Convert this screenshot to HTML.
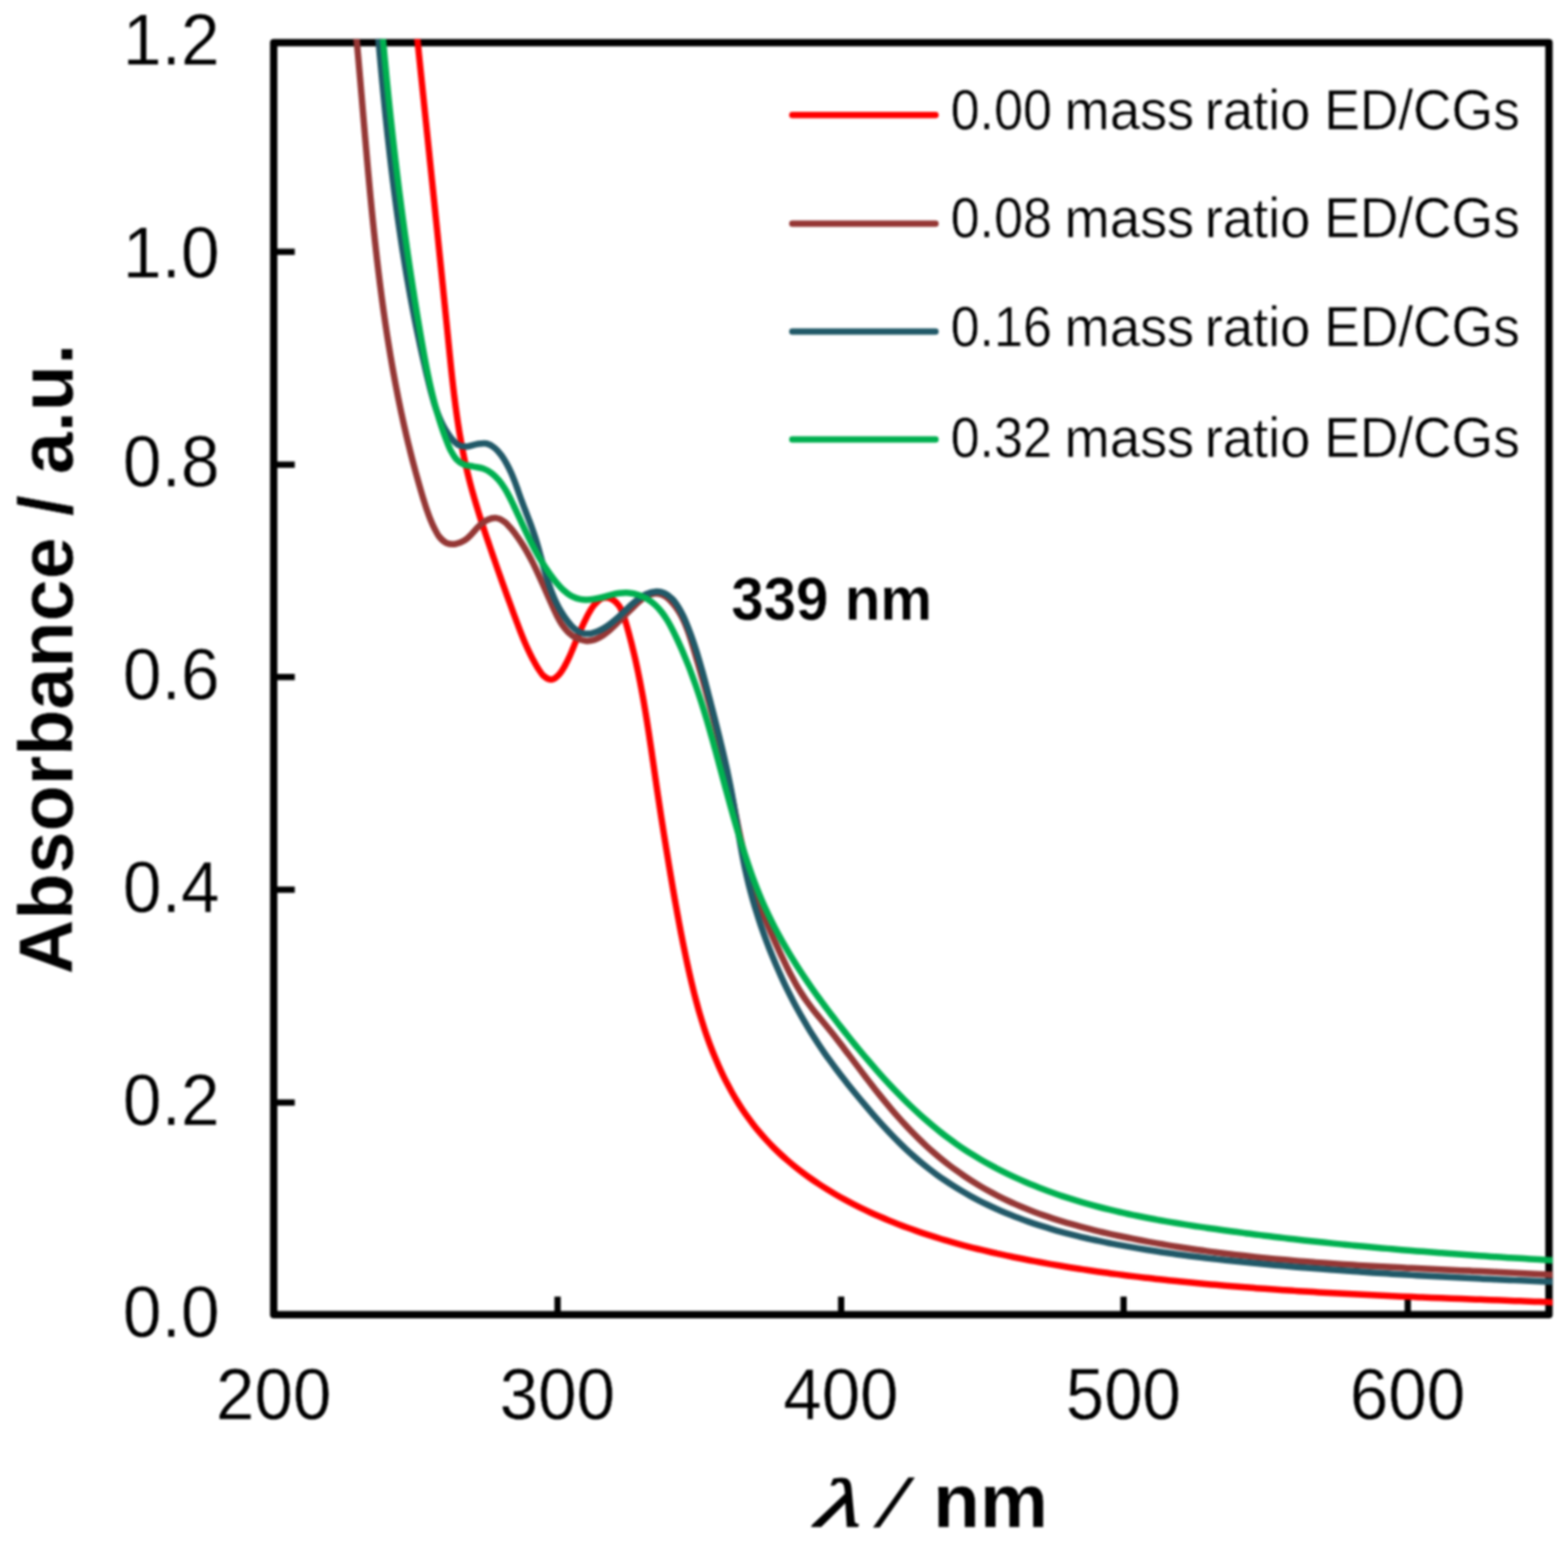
<!DOCTYPE html>
<html lang="en">
<head>
<meta charset="utf-8">
<title>UV-Vis absorbance spectra</title>
<style>
html,body{margin:0;padding:0;background:#fff;}
body{width:1599px;height:1572px;overflow:hidden;}
svg{display:block;filter:blur(1.0px);}
text{font-family:"Liberation Sans",sans-serif;fill:#000;stroke:#fff;stroke-width:0.4px;}
.b{font-weight:bold;}
.i{font-style:italic;}
</style>
</head>
<body>
<svg width="1599" height="1572" viewBox="0 0 1599 1572">
<rect x="0" y="0" width="1599" height="1572" fill="#fff"/>
<g fill="none" stroke="#000" stroke-width="7.5" stroke-linejoin="round">
<rect x="279.1" y="43.5" width="1300.5" height="1296.8"/>
</g>
<g fill="none" stroke="#000" stroke-width="6.4">
<line x1="279.1" y1="256.7" x2="300.6" y2="256.7"/>
<line x1="279.1" y1="473.7" x2="300.6" y2="473.7"/>
<line x1="279.1" y1="690.2" x2="300.6" y2="690.2"/>
<line x1="279.1" y1="907" x2="300.6" y2="907"/>
<line x1="279.1" y1="1124" x2="300.6" y2="1124"/>
<line x1="568.6" y1="1340.3" x2="568.6" y2="1321.8"/>
<line x1="857.8" y1="1340.3" x2="857.8" y2="1321.8"/>
<line x1="1145.8" y1="1340.3" x2="1145.8" y2="1321.8"/>
<line x1="1435.6" y1="1340.3" x2="1435.6" y2="1321.8"/>
</g>
<defs><clipPath id="plot"><rect x="276" y="39.7" width="1307.3" height="1305.3"/></clipPath></defs>
<g clip-path="url(#plot)" fill="none" stroke-width="6.5" stroke-linejoin="round" stroke-linecap="butt">
<path stroke="#FF0000" d="M422.0 5.0C422.20 6.63 422.71 11.63 423.05 14.96C423.39 18.29 423.74 21.62 424.08 24.95C424.42 28.28 424.77 31.61 425.11 34.94C425.45 38.27 425.80 41.60 426.14 44.92C426.48 48.25 426.83 51.58 427.17 54.90C427.51 58.23 427.86 61.56 428.20 64.88C428.55 68.21 428.89 71.53 429.23 74.86C429.58 78.18 429.92 81.51 430.27 84.83C430.61 88.15 430.96 91.48 431.30 94.80C431.64 98.12 431.99 101.45 432.33 104.77C432.68 108.09 433.02 111.41 433.37 114.74C433.71 118.06 434.06 121.38 434.40 124.70C434.74 128.02 435.09 131.34 435.43 134.66C435.78 137.99 436.12 141.31 436.47 144.63C436.81 147.95 437.15 151.27 437.50 154.59C437.84 157.91 438.19 161.23 438.53 164.55C438.87 167.87 439.22 171.19 439.56 174.51C439.91 177.83 440.25 181.15 440.59 184.47C440.94 187.79 441.28 191.11 441.62 194.43C441.96 197.75 442.31 201.07 442.65 204.39C442.99 207.71 443.34 211.03 443.68 214.36C444.02 217.68 444.36 221.00 444.70 224.32C445.05 227.64 445.39 230.96 445.73 234.28C446.07 237.60 446.41 240.93 446.75 244.25C447.09 247.57 447.43 250.89 447.77 254.21C448.11 257.54 448.45 260.86 448.79 264.18C449.13 267.51 449.47 270.83 449.81 274.15C450.15 277.48 450.49 280.80 450.83 284.13C451.16 287.45 451.50 290.78 451.84 294.10C452.18 297.43 452.51 300.76 452.85 304.08C453.19 307.41 453.52 310.74 453.86 314.06C454.20 317.39 454.53 320.72 454.87 324.05C455.20 327.38 455.54 330.71 455.87 334.04C456.20 337.37 456.54 340.70 456.87 344.03C457.20 347.36 457.53 350.70 457.87 354.03C458.20 357.36 458.54 360.69 458.88 364.03C459.21 367.36 459.55 370.69 459.90 374.02C460.25 377.35 460.61 380.68 460.97 384.01C461.33 387.34 461.70 390.67 462.09 393.99C462.47 397.32 462.86 400.64 463.27 403.96C463.68 407.28 464.10 410.60 464.54 413.92C464.98 417.23 465.43 420.54 465.90 423.85C466.37 427.15 466.86 430.46 467.38 433.76C467.89 437.05 468.42 440.35 468.98 443.64C469.54 446.92 470.11 450.21 470.72 453.49C471.33 456.76 471.96 460.03 472.62 463.30C473.28 466.56 473.97 469.82 474.69 473.08C475.42 476.33 476.17 479.57 476.95 482.81C477.74 486.05 478.56 489.28 479.40 492.50C480.25 495.72 481.13 498.94 482.03 502.15C482.93 505.36 483.86 508.57 484.81 511.77C485.76 514.97 486.73 518.16 487.72 521.35C488.71 524.54 489.72 527.73 490.74 530.91C491.77 534.09 492.81 537.27 493.86 540.45C494.91 543.62 495.98 546.80 497.05 549.97C498.13 553.14 499.21 556.31 500.30 559.48C501.38 562.64 502.48 565.81 503.57 568.98C504.67 572.14 505.77 575.30 506.88 578.47C507.98 581.63 509.10 584.78 510.21 587.94C511.33 591.09 512.45 594.25 513.57 597.39C514.70 600.54 515.83 603.69 516.96 606.82C518.10 609.96 519.24 613.10 520.38 616.23C521.52 619.36 522.67 622.48 523.82 625.60C524.97 628.72 526.12 631.83 527.29 634.94C528.46 638.04 529.63 641.14 530.85 644.23C532.06 647.32 533.29 650.40 534.60 653.46C535.90 656.53 537.24 659.58 538.67 662.62C540.10 665.66 541.59 668.68 543.19 671.69C544.79 674.69 546.41 677.77 548.27 680.65C550.13 683.53 551.99 686.94 554.35 688.96C556.72 690.98 559.85 692.99 562.47 692.77C565.08 692.55 567.77 689.98 570.03 687.65C572.29 685.32 574.27 681.75 576.03 678.77C577.80 675.78 579.21 672.74 580.61 669.72C582.00 666.70 583.17 663.68 584.43 660.64C585.68 657.60 586.88 654.55 588.16 651.49C589.43 648.44 590.72 645.36 592.08 642.31C593.44 639.25 594.83 636.18 596.31 633.15C597.80 630.12 599.25 627.00 600.99 624.12C602.74 621.24 604.51 618.26 606.79 615.86C609.07 613.45 611.77 610.49 614.67 609.67C617.57 608.85 621.44 609.63 624.22 610.95C627.00 612.28 629.44 615.03 631.34 617.61C633.24 620.19 634.40 623.34 635.62 626.42C636.83 629.50 637.66 632.86 638.62 636.11C639.58 639.35 640.48 642.62 641.36 645.87C642.24 649.13 643.09 652.39 643.92 655.66C644.75 658.92 645.55 662.19 646.32 665.45C647.10 668.72 647.85 671.99 648.57 675.27C649.30 678.54 650.00 681.81 650.69 685.09C651.37 688.37 652.03 691.65 652.67 694.93C653.32 698.21 653.94 701.49 654.55 704.77C655.16 708.06 655.75 711.34 656.33 714.63C656.90 717.92 657.46 721.21 658.01 724.50C658.56 727.79 659.10 731.08 659.63 734.37C660.15 737.67 660.67 740.96 661.18 744.26C661.69 747.55 662.19 750.85 662.68 754.15C663.18 757.44 663.66 760.74 664.15 764.04C664.63 767.34 665.11 770.64 665.59 773.94C666.07 777.24 666.54 780.54 667.02 783.85C667.49 787.15 667.97 790.45 668.45 793.75C668.93 797.06 669.41 800.36 669.89 803.66C670.38 806.97 670.87 810.27 671.36 813.57C671.85 816.88 672.35 820.18 672.86 823.49C673.36 826.79 673.87 830.09 674.38 833.40C674.89 836.70 675.41 840.01 675.93 843.31C676.45 846.61 676.97 849.92 677.50 853.22C678.03 856.52 678.56 859.83 679.10 863.13C679.63 866.43 680.17 869.73 680.72 873.04C681.26 876.34 681.80 879.64 682.35 882.94C682.90 886.24 683.45 889.54 684.01 892.84C684.57 896.14 685.13 899.44 685.69 902.74C686.26 906.04 686.82 909.33 687.40 912.63C687.98 915.92 688.56 919.22 689.15 922.51C689.73 925.80 690.33 929.09 690.93 932.38C691.54 935.67 692.15 938.96 692.77 942.24C693.39 945.52 694.01 948.80 694.65 952.08C695.29 955.36 695.94 958.64 696.59 961.91C697.25 965.18 697.92 968.45 698.60 971.72C699.28 974.99 699.97 978.25 700.68 981.51C701.38 984.77 702.10 988.03 702.83 991.28C703.56 994.53 704.31 997.78 705.08 1001.02C705.85 1004.26 706.63 1007.50 707.44 1010.73C708.25 1013.96 709.08 1017.18 709.94 1020.40C710.80 1023.61 711.68 1026.82 712.59 1030.03C713.51 1033.23 714.45 1036.42 715.42 1039.61C716.40 1042.79 717.40 1045.97 718.44 1049.14C719.48 1052.31 720.56 1055.47 721.68 1058.61C722.79 1061.76 723.95 1064.90 725.15 1068.02C726.34 1071.15 727.58 1074.27 728.87 1077.37C730.15 1080.47 731.48 1083.56 732.86 1086.64C734.23 1089.71 735.66 1092.77 737.12 1095.80C738.59 1098.84 740.11 1101.85 741.67 1104.84C743.23 1107.83 744.84 1110.80 746.50 1113.73C748.16 1116.66 749.87 1119.57 751.63 1122.44C753.38 1125.31 755.19 1128.14 757.04 1130.94C758.90 1133.74 760.80 1136.50 762.76 1139.21C764.71 1141.93 766.72 1144.61 768.77 1147.23C770.83 1149.86 772.94 1152.44 775.10 1154.97C777.26 1157.50 779.47 1159.98 781.72 1162.42C783.98 1164.86 786.28 1167.25 788.63 1169.60C790.98 1171.94 793.37 1174.24 795.80 1176.50C798.23 1178.76 800.71 1180.97 803.23 1183.14C805.74 1185.31 808.30 1187.43 810.89 1189.52C813.48 1191.60 816.11 1193.64 818.77 1195.64C821.43 1197.64 824.13 1199.60 826.86 1201.52C829.59 1203.43 832.35 1205.31 835.14 1207.15C837.93 1208.99 840.75 1210.79 843.60 1212.55C846.44 1214.31 849.32 1216.03 852.21 1217.72C855.11 1219.40 858.03 1221.05 860.98 1222.66C863.92 1224.28 866.88 1225.85 869.87 1227.39C872.85 1228.93 875.86 1230.44 878.87 1231.91C881.89 1233.38 884.93 1234.82 887.98 1236.22C891.03 1237.62 894.09 1238.99 897.17 1240.33C900.24 1241.67 903.33 1242.97 906.43 1244.25C909.52 1245.52 912.63 1246.76 915.75 1247.98C918.86 1249.19 921.99 1250.38 925.13 1251.53C928.26 1252.69 931.41 1253.81 934.56 1254.91C937.71 1256.01 940.88 1257.09 944.05 1258.13C947.22 1259.18 950.39 1260.20 953.58 1261.20C956.77 1262.19 959.96 1263.16 963.16 1264.11C966.36 1265.06 969.57 1265.98 972.78 1266.89C975.99 1267.79 979.21 1268.67 982.44 1269.53C985.66 1270.39 988.90 1271.23 992.13 1272.05C995.37 1272.87 998.61 1273.67 1001.86 1274.45C1005.11 1275.23 1008.36 1276.00 1011.61 1276.74C1014.87 1277.49 1018.13 1278.22 1021.39 1278.93C1024.65 1279.65 1027.92 1280.35 1031.19 1281.03C1034.46 1281.71 1037.73 1282.38 1041.01 1283.04C1044.28 1283.70 1047.56 1284.34 1050.84 1284.97C1054.12 1285.60 1057.41 1286.22 1060.69 1286.82C1063.98 1287.43 1067.27 1288.02 1070.56 1288.60C1073.85 1289.18 1077.14 1289.75 1080.43 1290.30C1083.73 1290.86 1087.02 1291.40 1090.32 1291.94C1093.62 1292.47 1096.92 1292.99 1100.22 1293.50C1103.52 1294.01 1106.83 1294.51 1110.13 1295.00C1113.44 1295.49 1116.75 1295.97 1120.06 1296.44C1123.36 1296.91 1126.67 1297.37 1129.99 1297.82C1133.30 1298.28 1136.61 1298.72 1139.93 1299.15C1143.24 1299.58 1146.56 1300.00 1149.87 1300.42C1153.19 1300.84 1156.51 1301.24 1159.83 1301.64C1163.14 1302.04 1166.46 1302.43 1169.78 1302.81C1173.10 1303.19 1176.43 1303.57 1179.75 1303.94C1183.07 1304.31 1186.39 1304.67 1189.72 1305.02C1193.04 1305.38 1196.36 1305.72 1199.69 1306.07C1203.01 1306.41 1206.34 1306.74 1209.66 1307.07C1212.99 1307.40 1216.31 1307.72 1219.64 1308.04C1222.96 1308.35 1226.29 1308.66 1229.62 1308.97C1232.95 1309.27 1236.27 1309.57 1239.60 1309.86C1242.93 1310.15 1246.26 1310.44 1249.59 1310.72C1252.92 1311.00 1256.25 1311.28 1259.58 1311.55C1262.91 1311.82 1266.24 1312.08 1269.57 1312.34C1272.90 1312.60 1276.23 1312.86 1279.56 1313.11C1282.89 1313.36 1286.22 1313.60 1289.56 1313.84C1292.89 1314.08 1296.22 1314.32 1299.55 1314.55C1302.89 1314.78 1306.22 1315.00 1309.55 1315.23C1312.89 1315.45 1316.22 1315.66 1319.55 1315.88C1322.89 1316.09 1326.22 1316.30 1329.56 1316.51C1332.89 1316.71 1336.23 1316.91 1339.56 1317.11C1342.90 1317.31 1346.23 1317.50 1349.57 1317.69C1352.91 1317.88 1356.24 1318.07 1359.58 1318.25C1362.92 1318.43 1366.25 1318.61 1369.59 1318.79C1372.93 1318.97 1376.26 1319.14 1379.60 1319.31C1382.94 1319.48 1386.27 1319.65 1389.61 1319.81C1392.95 1319.98 1396.29 1320.14 1399.63 1320.30C1402.96 1320.46 1406.30 1320.61 1409.64 1320.77C1412.98 1320.92 1416.32 1321.07 1419.66 1321.22C1422.99 1321.37 1426.33 1321.52 1429.67 1321.66C1433.01 1321.81 1436.35 1321.95 1439.69 1322.09C1443.03 1322.24 1446.37 1322.37 1449.71 1322.51C1453.05 1322.65 1456.39 1322.79 1459.72 1322.92C1463.06 1323.06 1466.40 1323.19 1469.74 1323.32C1473.08 1323.45 1476.42 1323.58 1479.76 1323.71C1483.10 1323.84 1486.44 1323.97 1489.78 1324.10C1493.12 1324.23 1496.46 1324.36 1499.80 1324.48C1503.14 1324.61 1506.48 1324.73 1509.82 1324.86C1513.16 1324.98 1516.50 1325.11 1519.84 1325.23C1523.18 1325.36 1526.52 1325.48 1529.85 1325.61C1533.19 1325.73 1536.53 1325.85 1539.87 1325.98C1543.21 1326.10 1546.55 1326.23 1549.89 1326.35C1553.23 1326.48 1556.57 1326.60 1559.91 1326.73C1563.25 1326.85 1566.58 1326.98 1569.92 1327.10C1573.26 1327.23 1576.60 1327.36 1579.94 1327.49C1583.28 1327.61 1586.61 1327.74 1589.95 1327.87C1593.29 1328.00 1596.63 1328.13 1599.97 1328.27C1603.30 1328.40 1606.64 1328.53 1609.98 1328.67C1613.31 1328.80 1618.32 1329.01 1619.99 1329.08"/>
<path stroke="#953735" d="M360.3 5.1C360.44 6.75 360.94 11.71 361.26 15.02C361.59 18.33 361.91 21.64 362.22 24.96C362.54 28.27 362.85 31.59 363.16 34.90C363.47 38.22 363.78 41.54 364.08 44.86C364.38 48.17 364.68 51.49 364.98 54.82C365.28 58.14 365.58 61.46 365.87 64.78C366.16 68.11 366.45 71.43 366.74 74.76C367.03 78.08 367.32 81.41 367.61 84.73C367.90 88.06 368.18 91.39 368.47 94.72C368.75 98.04 369.04 101.37 369.32 104.70C369.61 108.03 369.89 111.36 370.17 114.69C370.46 118.02 370.74 121.35 371.03 124.68C371.31 128.01 371.60 131.35 371.88 134.68C372.17 138.01 372.46 141.34 372.75 144.67C373.03 148.01 373.32 151.34 373.62 154.67C373.91 158.00 374.20 161.34 374.50 164.67C374.79 168.00 375.09 171.33 375.39 174.67C375.69 178.00 376.00 181.33 376.30 184.66C376.61 187.99 376.92 191.32 377.23 194.66C377.55 197.99 377.86 201.32 378.18 204.65C378.51 207.98 378.83 211.31 379.16 214.64C379.49 217.97 379.82 221.30 380.16 224.62C380.50 227.95 380.84 231.28 381.19 234.61C381.54 237.93 381.89 241.26 382.25 244.58C382.61 247.91 382.97 251.23 383.35 254.55C383.72 257.88 384.09 261.20 384.48 264.52C384.86 267.84 385.25 271.16 385.65 274.48C386.05 277.80 386.45 281.12 386.86 284.43C387.27 287.75 387.69 291.06 388.12 294.38C388.54 297.69 388.98 301.00 389.42 304.31C389.86 307.62 390.31 310.93 390.77 314.24C391.23 317.55 391.70 320.85 392.18 324.16C392.66 327.46 393.14 330.77 393.64 334.07C394.13 337.37 394.64 340.67 395.15 343.96C395.67 347.26 396.19 350.56 396.73 353.85C397.26 357.14 397.81 360.43 398.37 363.72C398.92 367.01 399.49 370.30 400.07 373.58C400.65 376.87 401.24 380.15 401.84 383.43C402.44 386.71 403.05 389.99 403.68 393.26C404.30 396.54 404.94 399.81 405.59 403.08C406.24 406.35 406.90 409.62 407.58 412.88C408.25 416.15 408.94 419.41 409.64 422.67C410.34 425.93 411.06 429.19 411.78 432.44C412.51 435.70 413.25 438.95 414.01 442.20C414.77 445.45 415.54 448.69 416.32 451.94C417.11 455.18 417.91 458.42 418.72 461.65C419.54 464.89 420.37 468.12 421.21 471.35C422.06 474.58 422.92 477.81 423.79 481.03C424.67 484.26 425.56 487.48 426.47 490.69C427.38 493.91 428.31 497.12 429.25 500.33C430.19 503.54 431.13 506.75 432.13 509.95C433.12 513.15 434.10 516.35 435.20 519.52C436.29 522.69 437.42 525.85 438.69 528.98C439.96 532.10 441.29 535.22 442.82 538.25C444.36 541.28 445.85 544.64 447.89 547.16C449.94 549.68 452.30 552.17 455.10 553.40C457.89 554.62 461.53 554.94 464.67 554.52C467.81 554.10 471.13 552.62 473.93 550.86C476.72 549.10 479.03 546.37 481.45 543.96C483.86 541.54 485.88 538.66 488.41 536.38C490.93 534.09 493.61 531.62 496.59 530.24C499.57 528.87 503.27 527.81 506.27 528.11C509.28 528.40 512.05 530.13 514.61 532.01C517.17 533.89 519.42 536.81 521.62 539.40C523.82 541.99 525.86 544.80 527.83 547.56C529.80 550.32 531.65 553.12 533.42 555.95C535.20 558.79 536.88 561.66 538.50 564.56C540.12 567.46 541.66 570.39 543.16 573.35C544.67 576.30 546.10 579.28 547.52 582.28C548.93 585.28 550.30 588.30 551.66 591.34C553.02 594.37 554.35 597.43 555.70 600.49C557.04 603.55 558.37 606.62 559.73 609.70C561.09 612.77 562.45 615.86 563.86 618.94C565.28 622.02 566.66 625.16 568.22 628.16C569.78 631.15 571.35 634.19 573.23 636.92C575.12 639.66 577.11 642.32 579.52 644.57C581.92 646.82 584.72 648.95 587.66 650.41C590.60 651.87 594.03 653.05 597.17 653.33C600.31 653.62 603.48 653.09 606.49 652.12C609.50 651.15 612.42 649.38 615.23 647.51C618.04 645.64 620.75 643.21 623.35 640.89C625.95 638.58 628.42 635.99 630.82 633.63C633.22 631.27 635.44 629.02 637.74 626.76C640.03 624.49 642.22 622.33 644.61 620.04C646.99 617.74 649.40 615.18 652.05 613.01C654.70 610.84 657.51 608.36 660.50 607.02C663.49 605.68 666.89 604.76 669.97 604.97C673.05 605.18 676.23 606.52 678.96 608.27C681.69 610.01 684.13 612.88 686.35 615.43C688.57 617.99 690.50 620.76 692.28 623.57C694.06 626.38 695.59 629.32 697.02 632.31C698.46 635.30 699.70 638.38 700.88 641.50C702.07 644.61 703.11 647.79 704.14 650.98C705.18 654.16 706.12 657.39 707.09 660.60C708.06 663.81 709.01 667.03 709.96 670.25C710.91 673.46 711.86 676.68 712.80 679.89C713.73 683.11 714.66 686.32 715.59 689.54C716.51 692.75 717.43 695.97 718.33 699.19C719.24 702.40 720.14 705.62 721.03 708.84C721.93 712.06 722.81 715.28 723.69 718.50C724.56 721.72 725.43 724.94 726.29 728.17C727.15 731.39 728.00 734.62 728.84 737.84C729.69 741.07 730.52 744.30 731.34 747.53C732.17 750.77 732.98 754.00 733.79 757.24C734.59 760.47 735.39 763.71 736.17 766.95C736.96 770.19 737.73 773.44 738.50 776.68C739.27 779.93 740.02 783.18 740.77 786.43C741.51 789.69 742.25 792.94 742.97 796.20C743.69 799.46 744.41 802.73 745.11 806.00C745.81 809.26 746.50 812.53 747.18 815.81C747.86 819.08 748.53 822.36 749.21 825.64C749.88 828.92 750.55 832.20 751.22 835.47C751.90 838.75 752.57 842.03 753.26 845.30C753.95 848.58 754.65 851.85 755.37 855.12C756.08 858.38 756.81 861.64 757.56 864.90C758.32 868.15 759.09 871.40 759.89 874.64C760.70 877.88 761.52 881.12 762.39 884.34C763.26 887.56 764.15 890.77 765.09 893.97C766.03 897.17 767.01 900.35 768.03 903.53C769.05 906.70 770.12 909.86 771.22 913.01C772.32 916.16 773.46 919.29 774.63 922.42C775.80 925.54 777.01 928.66 778.25 931.76C779.48 934.87 780.75 937.96 782.04 941.04C783.33 944.13 784.65 947.20 785.98 950.27C787.32 953.34 788.68 956.40 790.05 959.45C791.42 962.50 792.81 965.54 794.22 968.58C795.62 971.62 797.03 974.65 798.47 977.67C799.91 980.69 801.35 983.71 802.84 986.69C804.33 989.68 805.85 992.66 807.41 995.60C808.98 998.54 810.58 1001.46 812.25 1004.34C813.92 1007.22 815.63 1010.07 817.43 1012.87C819.22 1015.67 821.08 1018.43 823.02 1021.15C824.95 1023.86 826.98 1026.52 829.03 1029.16C831.08 1031.80 833.21 1034.40 835.33 1037.00C837.44 1039.60 839.60 1042.17 841.73 1044.77C843.85 1047.36 845.98 1049.96 848.07 1052.57C850.16 1055.19 852.22 1057.82 854.28 1060.46C856.33 1063.10 858.36 1065.75 860.39 1068.40C862.42 1071.06 864.42 1073.72 866.44 1076.38C868.45 1079.05 870.45 1081.72 872.45 1084.38C874.46 1087.05 876.46 1089.72 878.48 1092.38C880.49 1095.04 882.51 1097.70 884.54 1100.35C886.57 1103.00 888.62 1105.64 890.68 1108.27C892.74 1110.90 894.81 1113.52 896.90 1116.13C898.99 1118.73 901.09 1121.33 903.22 1123.90C905.35 1126.48 907.49 1129.04 909.66 1131.58C911.83 1134.11 914.02 1136.64 916.24 1139.13C918.45 1141.63 920.69 1144.10 922.96 1146.55C925.23 1149.00 927.52 1151.42 929.84 1153.82C932.17 1156.21 934.52 1158.58 936.90 1160.91C939.29 1163.24 941.70 1165.55 944.15 1167.82C946.60 1170.08 949.09 1172.32 951.61 1174.51C954.13 1176.71 956.69 1178.87 959.28 1180.99C961.87 1183.11 964.50 1185.19 967.16 1187.23C969.82 1189.27 972.51 1191.27 975.23 1193.23C977.95 1195.19 980.71 1197.11 983.49 1198.98C986.27 1200.86 989.08 1202.69 991.91 1204.48C994.74 1206.26 997.60 1208.01 1000.49 1209.70C1003.37 1211.40 1006.28 1213.05 1009.21 1214.66C1012.13 1216.26 1015.09 1217.82 1018.06 1219.33C1021.03 1220.84 1024.02 1222.31 1027.03 1223.73C1030.04 1225.15 1033.07 1226.53 1036.12 1227.87C1039.16 1229.21 1042.23 1230.50 1045.31 1231.76C1048.39 1233.02 1051.49 1234.23 1054.60 1235.42C1057.72 1236.60 1060.84 1237.74 1063.98 1238.85C1067.13 1239.97 1070.28 1241.04 1073.45 1242.08C1076.62 1243.13 1079.80 1244.14 1082.99 1245.12C1086.18 1246.10 1089.38 1247.05 1092.59 1247.97C1095.80 1248.90 1099.02 1249.79 1102.25 1250.66C1105.48 1251.53 1108.72 1252.37 1111.97 1253.19C1115.21 1254.01 1118.47 1254.81 1121.72 1255.58C1124.98 1256.36 1128.25 1257.11 1131.51 1257.84C1134.78 1258.58 1138.06 1259.29 1141.33 1259.99C1144.61 1260.69 1147.89 1261.37 1151.17 1262.03C1154.45 1262.70 1157.73 1263.35 1161.02 1263.99C1164.30 1264.62 1167.59 1265.24 1170.87 1265.85C1174.16 1266.46 1177.45 1267.05 1180.74 1267.63C1184.03 1268.21 1187.33 1268.78 1190.62 1269.33C1193.92 1269.89 1197.21 1270.43 1200.51 1270.96C1203.81 1271.48 1207.11 1272.00 1210.41 1272.50C1213.71 1273.00 1217.01 1273.49 1220.31 1273.97C1223.62 1274.45 1226.92 1274.92 1230.23 1275.37C1233.54 1275.83 1236.84 1276.27 1240.15 1276.71C1243.46 1277.14 1246.77 1277.56 1250.08 1277.97C1253.39 1278.38 1256.71 1278.78 1260.02 1279.17C1263.34 1279.56 1266.65 1279.94 1269.97 1280.31C1273.28 1280.68 1276.60 1281.05 1279.92 1281.40C1283.24 1281.75 1286.56 1282.09 1289.88 1282.42C1293.20 1282.76 1296.52 1283.08 1299.84 1283.40C1303.17 1283.71 1306.49 1284.02 1309.81 1284.32C1313.14 1284.62 1316.46 1284.91 1319.79 1285.19C1323.12 1285.48 1326.44 1285.75 1329.77 1286.02C1333.10 1286.29 1336.43 1286.55 1339.76 1286.81C1343.09 1287.06 1346.42 1287.31 1349.75 1287.55C1353.08 1287.80 1356.41 1288.03 1359.74 1288.26C1363.08 1288.49 1366.41 1288.72 1369.74 1288.93C1373.08 1289.15 1376.41 1289.37 1379.74 1289.57C1383.08 1289.78 1386.41 1289.98 1389.75 1290.18C1393.08 1290.38 1396.42 1290.57 1399.76 1290.76C1403.09 1290.95 1406.43 1291.14 1409.77 1291.32C1413.10 1291.50 1416.44 1291.68 1419.78 1291.85C1423.12 1292.03 1426.46 1292.20 1429.79 1292.37C1433.13 1292.53 1436.47 1292.70 1439.81 1292.86C1443.15 1293.03 1446.49 1293.19 1449.83 1293.34C1453.17 1293.50 1456.51 1293.66 1459.85 1293.81C1463.18 1293.97 1466.52 1294.12 1469.86 1294.27C1473.20 1294.42 1476.54 1294.57 1479.88 1294.72C1483.22 1294.87 1486.56 1295.02 1489.90 1295.17C1493.24 1295.32 1496.58 1295.47 1499.92 1295.62C1503.26 1295.76 1506.60 1295.91 1509.93 1296.06C1513.27 1296.21 1516.61 1296.36 1519.95 1296.51C1523.29 1296.66 1526.63 1296.81 1529.96 1296.96C1533.30 1297.12 1536.64 1297.27 1539.97 1297.43C1543.31 1297.58 1546.65 1297.74 1549.98 1297.90C1553.32 1298.06 1556.66 1298.22 1559.99 1298.39C1563.33 1298.55 1566.66 1298.72 1570.00 1298.89C1573.33 1299.06 1576.66 1299.23 1580.00 1299.41C1583.33 1299.58 1586.66 1299.76 1589.99 1299.95C1593.33 1300.13 1596.66 1300.32 1599.99 1300.51C1603.32 1300.71 1606.65 1300.90 1609.98 1301.10C1613.31 1301.31 1618.30 1301.62 1619.96 1301.72"/>
<path stroke="#215968" d="M382.9 5.0C383.06 6.64 383.48 11.64 383.77 14.98C384.05 18.31 384.33 21.65 384.62 24.98C384.90 28.32 385.19 31.65 385.48 34.98C385.77 38.32 386.06 41.65 386.35 44.98C386.65 48.32 386.94 51.65 387.24 54.98C387.54 58.31 387.84 61.64 388.14 64.97C388.44 68.30 388.75 71.63 389.06 74.96C389.37 78.29 389.68 81.62 389.99 84.94C390.31 88.27 390.63 91.60 390.95 94.92C391.27 98.25 391.59 101.58 391.92 104.90C392.25 108.23 392.59 111.55 392.92 114.87C393.26 118.20 393.60 121.52 393.95 124.84C394.30 128.16 394.65 131.48 395.00 134.80C395.36 138.12 395.72 141.44 396.08 144.76C396.45 148.08 396.82 151.40 397.20 154.71C397.57 158.03 397.95 161.34 398.34 164.66C398.73 167.98 399.12 171.29 399.52 174.60C399.92 177.92 400.32 181.23 400.73 184.54C401.14 187.85 401.56 191.16 401.98 194.47C402.41 197.78 402.84 201.09 403.27 204.40C403.71 207.71 404.15 211.01 404.60 214.32C405.06 217.62 405.51 220.93 405.98 224.23C406.44 227.54 406.92 230.84 407.40 234.14C407.88 237.44 408.37 240.74 408.86 244.04C409.36 247.34 409.86 250.64 410.37 253.94C410.89 257.24 411.41 260.53 411.94 263.83C412.47 267.12 413.00 270.42 413.55 273.71C414.10 277.00 414.65 280.30 415.22 283.59C415.78 286.88 416.35 290.17 416.94 293.46C417.52 296.75 418.11 300.03 418.72 303.32C419.32 306.61 419.93 309.89 420.55 313.18C421.17 316.46 421.81 319.74 422.45 323.02C423.09 326.30 423.74 329.58 424.41 332.86C425.07 336.14 425.75 339.42 426.43 342.70C427.12 345.97 427.81 349.25 428.52 352.52C429.23 355.80 429.94 359.07 430.67 362.34C431.40 365.61 432.14 368.88 432.90 372.15C433.65 375.42 434.41 378.69 435.19 381.95C435.97 385.22 436.75 388.49 437.56 391.74C438.37 395.00 439.17 398.27 440.05 401.51C440.93 404.74 441.82 407.98 442.82 411.16C443.83 414.35 444.88 417.52 446.07 420.62C447.26 423.73 448.53 426.81 449.97 429.81C451.40 432.81 452.95 435.77 454.70 438.64C456.44 441.51 458.30 444.51 460.44 447.02C462.58 449.52 464.84 452.33 467.51 453.69C470.18 455.05 473.27 455.35 476.46 455.18C479.65 455.02 483.34 453.17 486.66 452.69C489.98 452.21 493.38 451.61 496.37 452.28C499.35 452.95 502.08 454.72 504.58 456.72C507.08 458.72 509.32 461.57 511.37 464.29C513.41 467.01 515.20 470.08 516.86 473.05C518.52 476.03 519.95 479.07 521.32 482.12C522.69 485.18 523.89 488.29 525.08 491.39C526.27 494.50 527.34 497.64 528.47 500.77C529.59 503.90 530.67 507.05 531.82 510.17C532.97 513.30 534.18 516.41 535.38 519.53C536.57 522.65 537.82 525.76 539.01 528.88C540.21 532.01 541.42 535.13 542.54 538.28C543.67 541.43 544.76 544.60 545.78 547.78C546.80 550.97 547.74 554.18 548.68 557.39C549.61 560.61 550.48 563.84 551.37 567.06C552.26 570.29 553.12 573.52 554.02 576.74C554.92 579.95 555.82 583.17 556.78 586.36C557.75 589.55 558.73 592.73 559.81 595.87C560.89 599.01 562.01 602.14 563.26 605.22C564.51 608.30 565.82 611.36 567.29 614.35C568.75 617.35 570.31 620.32 572.05 623.21C573.78 626.11 575.64 629.02 577.69 631.75C579.75 634.48 581.95 637.38 584.39 639.59C586.83 641.80 589.44 643.94 592.31 645.00C595.18 646.06 598.44 646.33 601.61 645.95C604.78 645.57 608.28 644.11 611.35 642.73C614.42 641.36 617.28 639.56 620.03 637.69C622.78 635.82 625.32 633.70 627.85 631.53C630.39 629.37 632.77 627.02 635.24 624.71C637.70 622.40 640.09 619.95 642.62 617.67C645.15 615.40 647.69 613.03 650.40 611.06C653.12 609.09 655.92 607.16 658.91 605.85C661.89 604.53 665.19 603.35 668.31 603.16C671.43 602.97 674.76 603.50 677.62 604.73C680.48 605.97 683.13 608.20 685.49 610.57C687.86 612.94 689.94 616.05 691.81 618.96C693.69 621.87 695.26 625.01 696.75 628.05C698.23 631.08 699.47 634.11 700.72 637.17C701.97 640.23 703.13 643.31 704.27 646.41C705.41 649.51 706.50 652.64 707.56 655.79C708.62 658.93 709.63 662.09 710.62 665.27C711.61 668.45 712.57 671.64 713.51 674.85C714.44 678.05 715.35 681.27 716.24 684.49C717.14 687.72 718.00 690.95 718.87 694.19C719.73 697.43 720.58 700.67 721.42 703.91C722.27 707.16 723.10 710.40 723.94 713.65C724.78 716.89 725.62 720.14 726.45 723.38C727.29 726.62 728.12 729.86 728.95 733.10C729.78 736.35 730.60 739.59 731.41 742.83C732.23 746.07 733.04 749.31 733.84 752.56C734.63 755.80 735.42 759.05 736.20 762.29C736.98 765.54 737.74 768.79 738.49 772.04C739.24 775.29 739.98 778.55 740.70 781.80C741.42 785.06 742.13 788.32 742.81 791.59C743.49 794.85 744.16 798.12 744.81 801.39C745.45 804.66 746.07 807.94 746.67 811.22C747.28 814.50 747.85 817.79 748.42 821.08C748.98 824.37 749.53 827.66 750.07 830.96C750.62 834.25 751.15 837.55 751.69 840.85C752.23 844.15 752.77 847.44 753.32 850.74C753.87 854.03 754.42 857.33 755.00 860.62C755.58 863.91 756.16 867.20 756.78 870.48C757.40 873.76 758.04 877.04 758.71 880.32C759.38 883.59 760.09 886.85 760.83 890.11C761.56 893.37 762.33 896.63 763.13 899.87C763.93 903.12 764.77 906.35 765.63 909.58C766.49 912.81 767.38 916.03 768.31 919.25C769.23 922.46 770.19 925.67 771.17 928.86C772.16 932.06 773.17 935.24 774.22 938.42C775.26 941.60 776.33 944.77 777.44 947.92C778.54 951.08 779.67 954.23 780.83 957.36C781.99 960.50 783.18 963.62 784.40 966.74C785.62 969.85 786.86 972.95 788.14 976.04C789.41 979.13 790.71 982.21 792.04 985.28C793.37 988.34 794.73 991.40 796.11 994.44C797.50 997.48 798.91 1000.50 800.34 1003.52C801.78 1006.53 803.25 1009.53 804.74 1012.51C806.23 1015.50 807.75 1018.47 809.30 1021.42C810.85 1024.38 812.43 1027.32 814.03 1030.24C815.64 1033.16 817.27 1036.07 818.93 1038.96C820.60 1041.85 822.29 1044.72 824.01 1047.58C825.73 1050.44 827.48 1053.28 829.26 1056.10C831.04 1058.92 832.85 1061.72 834.69 1064.50C836.53 1067.28 838.41 1070.05 840.31 1072.79C842.21 1075.54 844.14 1078.26 846.10 1080.97C848.06 1083.68 850.04 1086.37 852.05 1089.05C854.06 1091.72 856.09 1094.38 858.14 1097.03C860.19 1099.67 862.27 1102.30 864.35 1104.92C866.44 1107.54 868.54 1110.15 870.66 1112.74C872.78 1115.34 874.91 1117.93 877.05 1120.50C879.19 1123.08 881.34 1125.65 883.50 1128.20C885.67 1130.75 887.85 1133.29 890.04 1135.82C892.24 1138.34 894.45 1140.85 896.68 1143.34C898.91 1145.83 901.15 1148.30 903.43 1150.74C905.70 1153.19 907.99 1155.61 910.31 1158.01C912.63 1160.40 914.97 1162.77 917.34 1165.11C919.71 1167.45 922.11 1169.76 924.54 1172.04C926.97 1174.31 929.42 1176.56 931.92 1178.77C934.41 1180.97 936.94 1183.14 939.50 1185.27C942.06 1187.40 944.66 1189.49 947.30 1191.54C949.94 1193.58 952.61 1195.59 955.32 1197.55C958.03 1199.51 960.77 1201.43 963.55 1203.31C966.32 1205.19 969.13 1207.02 971.96 1208.81C974.80 1210.61 977.66 1212.36 980.55 1214.06C983.44 1215.77 986.35 1217.44 989.29 1219.06C992.22 1220.68 995.18 1222.26 998.16 1223.80C1001.14 1225.34 1004.14 1226.83 1007.16 1228.29C1010.18 1229.74 1013.21 1231.15 1016.26 1232.52C1019.31 1233.89 1022.37 1235.21 1025.45 1236.50C1028.53 1237.79 1031.62 1239.03 1034.73 1240.24C1037.84 1241.45 1040.96 1242.63 1044.09 1243.76C1047.22 1244.90 1050.37 1246.00 1053.52 1247.07C1056.68 1248.14 1059.85 1249.17 1063.03 1250.17C1066.21 1251.18 1069.40 1252.14 1072.60 1253.09C1075.80 1254.03 1079.00 1254.94 1082.22 1255.82C1085.44 1256.70 1088.67 1257.55 1091.90 1258.38C1095.13 1259.21 1098.38 1260.01 1101.63 1260.79C1104.87 1261.57 1108.13 1262.32 1111.39 1263.06C1114.65 1263.79 1117.92 1264.50 1121.19 1265.19C1124.46 1265.88 1127.74 1266.55 1131.02 1267.20C1134.30 1267.85 1137.59 1268.48 1140.87 1269.10C1144.16 1269.71 1147.45 1270.31 1150.74 1270.90C1154.04 1271.48 1157.33 1272.05 1160.63 1272.61C1163.92 1273.16 1167.22 1273.70 1170.52 1274.23C1173.82 1274.76 1177.12 1275.28 1180.43 1275.78C1183.73 1276.29 1187.03 1276.78 1190.34 1277.26C1193.65 1277.74 1196.95 1278.20 1200.26 1278.66C1203.57 1279.12 1206.88 1279.56 1210.20 1280.00C1213.51 1280.43 1216.82 1280.85 1220.14 1281.27C1223.45 1281.68 1226.77 1282.09 1230.08 1282.48C1233.40 1282.88 1236.72 1283.26 1240.04 1283.64C1243.36 1284.02 1246.68 1284.39 1250.00 1284.75C1253.32 1285.11 1256.64 1285.46 1259.96 1285.81C1263.28 1286.15 1266.61 1286.49 1269.93 1286.83C1273.25 1287.16 1276.58 1287.48 1279.90 1287.80C1283.23 1288.12 1286.56 1288.44 1289.88 1288.75C1293.21 1289.06 1296.54 1289.36 1299.86 1289.66C1303.19 1289.96 1306.52 1290.25 1309.85 1290.54C1313.17 1290.84 1316.50 1291.12 1319.83 1291.40C1323.16 1291.68 1326.49 1291.96 1329.82 1292.24C1333.15 1292.51 1336.48 1292.78 1339.81 1293.04C1343.14 1293.31 1346.47 1293.57 1349.80 1293.82C1353.13 1294.08 1356.46 1294.33 1359.79 1294.58C1363.12 1294.83 1366.45 1295.08 1369.78 1295.32C1373.12 1295.56 1376.45 1295.80 1379.78 1296.03C1383.11 1296.27 1386.45 1296.50 1389.78 1296.72C1393.11 1296.95 1396.44 1297.17 1399.78 1297.39C1403.11 1297.61 1406.45 1297.83 1409.78 1298.04C1413.11 1298.26 1416.45 1298.46 1419.78 1298.67C1423.12 1298.88 1426.45 1299.08 1429.79 1299.28C1433.12 1299.48 1436.46 1299.68 1439.79 1299.87C1443.13 1300.07 1446.46 1300.26 1449.80 1300.45C1453.13 1300.64 1456.47 1300.82 1459.80 1301.01C1463.14 1301.19 1466.48 1301.37 1469.81 1301.55C1473.15 1301.72 1476.49 1301.90 1479.82 1302.07C1483.16 1302.24 1486.49 1302.41 1489.83 1302.58C1493.17 1302.75 1496.51 1302.92 1499.84 1303.08C1503.18 1303.24 1506.52 1303.40 1509.85 1303.56C1513.19 1303.72 1516.53 1303.88 1519.87 1304.03C1523.20 1304.18 1526.54 1304.34 1529.88 1304.49C1533.22 1304.64 1536.55 1304.79 1539.89 1304.93C1543.23 1305.08 1546.57 1305.22 1549.91 1305.37C1553.24 1305.51 1556.58 1305.65 1559.92 1305.79C1563.26 1305.93 1566.60 1306.07 1569.93 1306.21C1573.27 1306.34 1576.61 1306.48 1579.95 1306.61C1583.29 1306.74 1586.62 1306.88 1589.96 1307.01C1593.30 1307.14 1596.64 1307.27 1599.98 1307.40C1603.31 1307.53 1606.65 1307.65 1609.99 1307.78C1613.33 1307.91 1618.34 1308.10 1620.00 1308.16"/>
<path stroke="#00B050" d="M387.6 5.0C387.72 6.67 388.13 11.67 388.41 15.00C388.68 18.34 388.97 21.67 389.25 25.00C389.54 28.33 389.83 31.67 390.12 35.00C390.41 38.33 390.71 41.66 391.01 45.00C391.31 48.33 391.61 51.66 391.92 54.99C392.22 58.32 392.53 61.66 392.85 64.99C393.16 68.32 393.48 71.65 393.80 74.98C394.12 78.32 394.45 81.65 394.78 84.98C395.11 88.31 395.44 91.64 395.78 94.97C396.11 98.30 396.45 101.64 396.80 104.97C397.14 108.30 397.49 111.63 397.84 114.96C398.20 118.29 398.55 121.62 398.91 124.95C399.28 128.27 399.64 131.60 400.01 134.93C400.38 138.26 400.75 141.59 401.13 144.92C401.51 148.24 401.89 151.57 402.27 154.90C402.66 158.22 403.05 161.55 403.44 164.88C403.84 168.20 404.24 171.53 404.64 174.85C405.04 178.18 405.45 181.50 405.86 184.82C406.27 188.15 406.69 191.47 407.11 194.79C407.53 198.11 407.96 201.44 408.39 204.76C408.82 208.08 409.25 211.40 409.69 214.72C410.13 218.04 410.57 221.36 411.02 224.67C411.47 227.99 411.92 231.31 412.38 234.63C412.84 237.94 413.30 241.26 413.77 244.57C414.24 247.89 414.71 251.20 415.18 254.51C415.66 257.83 416.14 261.14 416.63 264.45C417.12 267.76 417.61 271.07 418.11 274.38C418.60 277.69 419.11 281.00 419.61 284.31C420.12 287.61 420.63 290.92 421.15 294.23C421.67 297.53 422.19 300.84 422.72 304.14C423.24 307.44 423.78 310.74 424.31 314.05C424.85 317.35 425.40 320.65 425.94 323.95C426.49 327.24 427.05 330.54 427.61 333.84C428.17 337.13 428.73 340.43 429.30 343.72C429.87 347.02 430.44 350.31 431.03 353.60C431.61 356.89 432.20 360.18 432.81 363.47C433.42 366.75 434.03 370.04 434.67 373.32C435.31 376.60 435.96 379.88 436.64 383.15C437.32 386.42 438.02 389.69 438.76 392.96C439.49 396.22 440.25 399.48 441.04 402.73C441.84 405.99 442.66 409.24 443.53 412.48C444.40 415.72 445.30 418.95 446.25 422.18C447.19 425.41 448.18 428.63 449.22 431.84C450.26 435.05 451.35 438.26 452.49 441.45C453.63 444.65 454.80 447.86 456.08 451.01C457.35 454.15 458.59 457.43 460.15 460.31C461.71 463.19 463.32 466.06 465.43 468.28C467.55 470.49 469.95 472.36 472.84 473.59C475.74 474.82 479.42 474.96 482.78 475.66C486.13 476.36 489.85 476.62 492.98 477.77C496.11 478.92 498.95 480.61 501.55 482.56C504.16 484.50 506.46 486.94 508.61 489.44C510.76 491.94 512.66 494.75 514.46 497.58C516.26 500.40 517.86 503.39 519.43 506.38C521.00 509.37 522.43 512.46 523.88 515.51C525.33 518.56 526.73 521.63 528.14 524.69C529.56 527.74 530.95 530.78 532.37 533.82C533.78 536.85 535.19 539.87 536.63 542.87C538.07 545.88 539.52 548.87 541.02 551.84C542.51 554.80 544.03 557.75 545.62 560.68C547.20 563.60 548.81 566.50 550.51 569.37C552.20 572.24 553.94 575.09 555.78 577.90C557.61 580.71 559.51 583.49 561.51 586.23C563.51 588.97 565.58 591.74 567.79 594.33C570.00 596.92 572.29 599.57 574.77 601.78C577.25 604.00 579.84 606.12 582.67 607.64C585.50 609.17 588.55 610.32 591.74 610.92C594.92 611.53 598.43 611.49 601.78 611.26C605.13 611.02 608.52 610.23 611.83 609.51C615.13 608.78 618.34 607.68 621.60 606.90C624.87 606.12 628.12 605.22 631.43 604.82C634.73 604.41 638.14 604.19 641.43 604.47C644.73 604.74 648.06 605.41 651.19 606.47C654.33 607.53 657.41 609.08 660.26 610.83C663.11 612.58 665.84 614.72 668.30 616.98C670.76 619.24 672.98 621.77 675.04 624.37C677.11 626.98 678.93 629.79 680.67 632.63C682.42 635.47 683.99 638.46 685.54 641.44C687.08 644.42 688.53 647.46 689.97 650.50C691.40 653.53 692.80 656.58 694.15 659.65C695.51 662.71 696.83 665.79 698.12 668.88C699.41 671.96 700.66 675.06 701.89 678.18C703.11 681.29 704.30 684.41 705.46 687.54C706.63 690.67 707.76 693.82 708.87 696.97C709.98 700.12 711.06 703.28 712.12 706.45C713.18 709.62 714.22 712.80 715.24 715.98C716.26 719.17 717.25 722.36 718.23 725.56C719.21 728.76 720.17 731.96 721.12 735.17C722.07 738.38 723.00 741.60 723.92 744.82C724.85 748.04 725.75 751.26 726.65 754.49C727.56 757.72 728.44 760.95 729.33 764.18C730.22 767.41 731.09 770.65 731.97 773.89C732.84 777.12 733.71 780.36 734.58 783.60C735.45 786.84 736.32 790.08 737.19 793.32C738.06 796.56 738.93 799.80 739.81 803.04C740.68 806.27 741.56 809.51 742.44 812.74C743.33 815.98 744.22 819.21 745.11 822.44C746.01 825.67 746.91 828.89 747.83 832.12C748.75 835.34 749.67 838.56 750.61 841.77C751.54 844.98 752.49 848.19 753.46 851.39C754.42 854.60 755.40 857.79 756.39 860.98C757.39 864.17 758.40 867.36 759.43 870.53C760.46 873.71 761.51 876.88 762.58 880.04C763.65 883.20 764.74 886.35 765.86 889.49C766.98 892.63 768.12 895.77 769.30 898.89C770.47 902.01 771.68 905.12 772.92 908.22C774.16 911.31 775.43 914.40 776.75 917.47C778.06 920.54 779.42 923.60 780.82 926.64C782.21 929.68 783.65 932.71 785.12 935.73C786.59 938.74 788.10 941.74 789.64 944.72C791.18 947.70 792.76 950.67 794.37 953.62C795.98 956.57 797.62 959.51 799.29 962.43C800.96 965.35 802.66 968.25 804.38 971.13C806.11 974.02 807.86 976.88 809.64 979.73C811.41 982.58 813.21 985.41 815.04 988.23C816.86 991.04 818.70 993.83 820.57 996.61C822.43 999.39 824.31 1002.14 826.22 1004.88C828.12 1007.62 830.04 1010.35 831.97 1013.06C833.91 1015.77 835.86 1018.46 837.83 1021.14C839.80 1023.82 841.79 1026.49 843.79 1029.15C845.79 1031.81 847.81 1034.46 849.84 1037.10C851.87 1039.74 853.91 1042.38 855.97 1045.00C858.02 1047.63 860.09 1050.25 862.18 1052.87C864.26 1055.49 866.35 1058.10 868.46 1060.71C870.56 1063.31 872.68 1065.92 874.81 1068.51C876.95 1071.10 879.09 1073.69 881.25 1076.26C883.42 1078.84 885.59 1081.40 887.78 1083.95C889.98 1086.50 892.18 1089.04 894.41 1091.56C896.64 1094.08 898.88 1096.59 901.14 1099.08C903.40 1101.57 905.68 1104.05 907.98 1106.50C910.27 1108.95 912.59 1111.39 914.93 1113.80C917.26 1116.21 919.62 1118.60 922.00 1120.97C924.38 1123.33 926.78 1125.68 929.20 1127.99C931.62 1130.30 934.06 1132.59 936.53 1134.85C939.00 1137.11 941.49 1139.34 944.01 1141.54C946.52 1143.74 949.06 1145.91 951.63 1148.05C954.19 1150.19 956.78 1152.29 959.40 1154.36C962.02 1156.42 964.66 1158.46 967.33 1160.45C970.00 1162.44 972.70 1164.40 975.43 1166.31C978.16 1168.23 980.91 1170.11 983.70 1171.94C986.48 1173.78 989.29 1175.57 992.13 1177.33C994.96 1179.09 997.83 1180.81 1000.71 1182.49C1003.60 1184.17 1006.51 1185.82 1009.44 1187.42C1012.37 1189.03 1015.33 1190.60 1018.30 1192.13C1021.27 1193.67 1024.27 1195.16 1027.28 1196.63C1030.30 1198.09 1033.33 1199.52 1036.38 1200.91C1039.43 1202.30 1042.50 1203.66 1045.58 1204.98C1048.67 1206.31 1051.77 1207.60 1054.88 1208.85C1057.99 1210.11 1061.12 1211.34 1064.26 1212.53C1067.39 1213.72 1070.55 1214.88 1073.71 1216.01C1076.87 1217.14 1080.04 1218.24 1083.22 1219.31C1086.40 1220.38 1089.60 1221.42 1092.79 1222.42C1095.99 1223.43 1099.20 1224.41 1102.41 1225.36C1105.62 1226.31 1108.84 1227.23 1112.06 1228.13C1115.29 1229.03 1118.52 1229.90 1121.75 1230.74C1124.99 1231.59 1128.23 1232.41 1131.48 1233.20C1134.72 1234.00 1137.98 1234.77 1141.24 1235.52C1144.49 1236.27 1147.76 1237.00 1151.02 1237.71C1154.29 1238.42 1157.56 1239.11 1160.84 1239.78C1164.11 1240.45 1167.39 1241.10 1170.68 1241.74C1173.96 1242.37 1177.25 1242.99 1180.54 1243.59C1183.83 1244.19 1187.12 1244.78 1190.42 1245.35C1193.71 1245.92 1197.01 1246.48 1200.32 1247.03C1203.62 1247.57 1206.92 1248.11 1210.23 1248.63C1213.53 1249.15 1216.84 1249.66 1220.15 1250.17C1223.46 1250.67 1226.77 1251.16 1230.09 1251.65C1233.40 1252.13 1236.71 1252.61 1240.03 1253.08C1243.34 1253.55 1246.66 1254.02 1249.97 1254.48C1253.29 1254.94 1256.61 1255.39 1259.93 1255.84C1263.24 1256.29 1266.56 1256.73 1269.88 1257.17C1273.20 1257.60 1276.52 1258.03 1279.84 1258.46C1283.16 1258.88 1286.48 1259.30 1289.80 1259.72C1293.12 1260.13 1296.45 1260.54 1299.77 1260.94C1303.09 1261.34 1306.42 1261.74 1309.74 1262.13C1313.06 1262.52 1316.39 1262.91 1319.71 1263.29C1323.04 1263.67 1326.37 1264.05 1329.69 1264.42C1333.02 1264.79 1336.35 1265.16 1339.67 1265.52C1343.00 1265.88 1346.33 1266.24 1349.66 1266.59C1352.99 1266.94 1356.32 1267.29 1359.64 1267.63C1362.97 1267.97 1366.30 1268.31 1369.64 1268.64C1372.97 1268.97 1376.30 1269.30 1379.63 1269.62C1382.96 1269.95 1386.29 1270.27 1389.63 1270.58C1392.96 1270.90 1396.29 1271.21 1399.62 1271.51C1402.96 1271.82 1406.29 1272.12 1409.62 1272.42C1412.96 1272.72 1416.29 1273.01 1419.63 1273.30C1422.96 1273.59 1426.30 1273.88 1429.63 1274.16C1432.97 1274.44 1436.31 1274.72 1439.64 1274.99C1442.98 1275.27 1446.31 1275.54 1449.65 1275.81C1452.99 1276.07 1456.33 1276.34 1459.66 1276.60C1463.00 1276.86 1466.34 1277.11 1469.68 1277.36C1473.01 1277.62 1476.35 1277.87 1479.69 1278.11C1483.03 1278.36 1486.37 1278.60 1489.71 1278.84C1493.05 1279.08 1496.39 1279.32 1499.72 1279.55C1503.06 1279.79 1506.40 1280.02 1509.74 1280.25C1513.08 1280.47 1516.42 1280.70 1519.76 1280.92C1523.10 1281.14 1526.44 1281.36 1529.78 1281.58C1533.12 1281.80 1536.46 1282.01 1539.80 1282.22C1543.15 1282.43 1546.49 1282.64 1549.83 1282.85C1553.17 1283.05 1556.51 1283.26 1559.85 1283.46C1563.19 1283.66 1566.53 1283.86 1569.87 1284.06C1573.21 1284.25 1576.55 1284.45 1579.90 1284.64C1583.24 1284.84 1586.58 1285.03 1589.92 1285.21C1593.26 1285.40 1596.60 1285.59 1599.94 1285.78C1603.28 1285.96 1606.62 1286.14 1609.96 1286.33C1613.31 1286.51 1618.32 1286.77 1619.99 1286.86"/>
</g>
<line x1="808" y1="117.3" x2="954" y2="117.3" stroke="#FF0000" stroke-width="6.5" stroke-linecap="round"/>
<text y="132.3" font-size="57" xml:space="preserve"><tspan x="969.5" textLength="103.2" lengthAdjust="spacingAndGlyphs">0.00</tspan> <tspan x="1085.5" textLength="132.3" lengthAdjust="spacingAndGlyphs">mass</tspan> <tspan x="1228.4" textLength="108.1" lengthAdjust="spacingAndGlyphs">ratio</tspan> <tspan x="1350.4" textLength="199.5" lengthAdjust="spacingAndGlyphs">ED/CGs</tspan></text>
<line x1="808" y1="228" x2="954" y2="228" stroke="#953735" stroke-width="6.5" stroke-linecap="round"/>
<text y="242" font-size="57" xml:space="preserve"><tspan x="969.5" textLength="103.2" lengthAdjust="spacingAndGlyphs">0.08</tspan> <tspan x="1085.5" textLength="132.3" lengthAdjust="spacingAndGlyphs">mass</tspan> <tspan x="1228.4" textLength="108.1" lengthAdjust="spacingAndGlyphs">ratio</tspan> <tspan x="1350.4" textLength="199.5" lengthAdjust="spacingAndGlyphs">ED/CGs</tspan></text>
<line x1="808" y1="338" x2="954" y2="338" stroke="#215968" stroke-width="6.5" stroke-linecap="round"/>
<text y="353" font-size="57" xml:space="preserve"><tspan x="969.5" textLength="103.2" lengthAdjust="spacingAndGlyphs">0.16</tspan> <tspan x="1085.5" textLength="132.3" lengthAdjust="spacingAndGlyphs">mass</tspan> <tspan x="1228.4" textLength="108.1" lengthAdjust="spacingAndGlyphs">ratio</tspan> <tspan x="1350.4" textLength="199.5" lengthAdjust="spacingAndGlyphs">ED/CGs</tspan></text>
<line x1="808" y1="448" x2="954" y2="448" stroke="#00B050" stroke-width="6.5" stroke-linecap="round"/>
<text y="466" font-size="57" xml:space="preserve"><tspan x="969.5" textLength="103.2" lengthAdjust="spacingAndGlyphs">0.32</tspan> <tspan x="1085.5" textLength="132.3" lengthAdjust="spacingAndGlyphs">mass</tspan> <tspan x="1228.4" textLength="108.1" lengthAdjust="spacingAndGlyphs">ratio</tspan> <tspan x="1350.4" textLength="199.5" lengthAdjust="spacingAndGlyphs">ED/CGs</tspan></text>
<text transform="translate(223.9 66.1) scale(0.985 1.02)" font-size="72" text-anchor="end">1.2</text>
<text transform="translate(223.9 282.9) scale(0.985 1.02)" font-size="72" text-anchor="end">1.0</text>
<text transform="translate(223.9 496.3) scale(0.985 1.02)" font-size="72" text-anchor="end">0.8</text>
<text transform="translate(223.9 712.8000000000001) scale(0.985 1.02)" font-size="72" text-anchor="end">0.6</text>
<text transform="translate(223.9 929.6) scale(0.985 1.02)" font-size="72" text-anchor="end">0.4</text>
<text transform="translate(223.9 1146.6) scale(0.985 1.02)" font-size="72" text-anchor="end">0.2</text>
<text transform="translate(223.9 1363.1) scale(0.985 1.02)" font-size="72" text-anchor="end">0.0</text>
<text transform="translate(279.2 1447) scale(0.98 1.02)" font-size="72" text-anchor="middle">200</text>
<text transform="translate(568.3000000000001 1447) scale(0.98 1.02)" font-size="72" text-anchor="middle">300</text>
<text transform="translate(857.5 1447) scale(0.98 1.02)" font-size="72" text-anchor="middle">400</text>
<text transform="translate(1145.5 1447) scale(0.98 1.02)" font-size="72" text-anchor="middle">500</text>
<text transform="translate(1435.3 1447) scale(0.98 1.02)" font-size="72" text-anchor="middle">600</text>
<text class="b" transform="matrix(1.007 0 0 1.073 745.8 631.8)" font-size="59">339 nm</text>
<text class="b" transform="translate(74.2 993.3) rotate(-90) scale(0.9885 1.0)" font-size="78">Absorbance / a.u.</text>
<text transform="matrix(1.297 0 0 0.886 825.7 1555.6) skewX(-15)" font-size="78" style="font-family:'Liberation Serif',serif;stroke:#000;stroke-width:1.6px">λ</text>
<text transform="matrix(0.909 0 0 0.871 891.6 1555.6) skewX(-22)" font-size="78" style="stroke:#000;stroke-width:1.2px">/</text>
<text class="b" transform="matrix(1.004 0 0 1.0 951.4 1556.5)" font-size="78">nm</text>
</svg>
</body>
</html>
